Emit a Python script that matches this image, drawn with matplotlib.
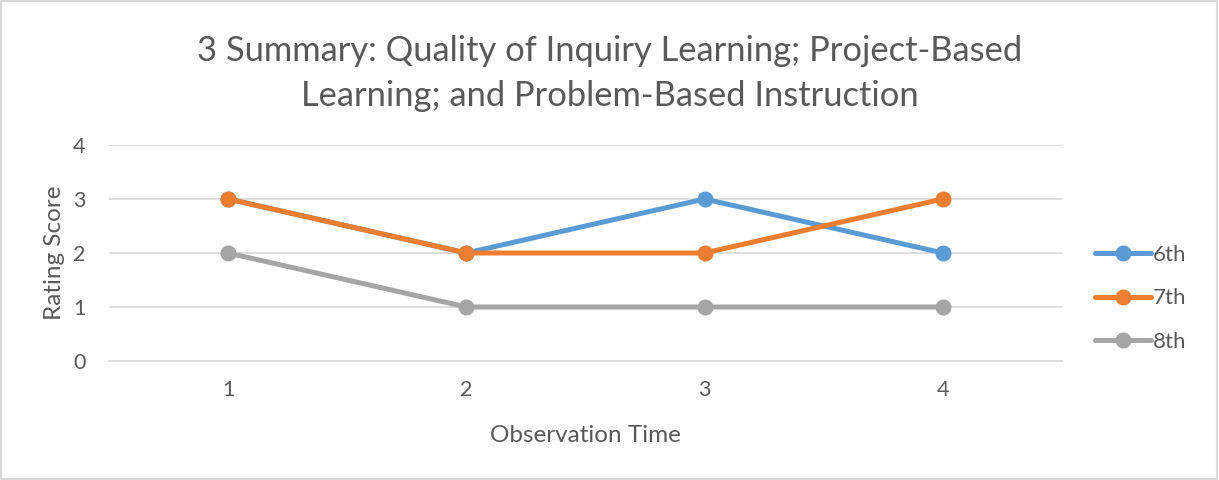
import matplotlib
matplotlib.use("Agg")
import matplotlib.pyplot as plt
from matplotlib.patches import Rectangle

obs_time = [1, 2, 3, 4]
sixth = [3, 2, 3, 2]
seventh = [3, 2, 2, 3]
eighth = [2, 1, 1, 1]
series_names = ["6th", "7th", "8th"]
colors = ["#5B9BD5", "#ED7D31", "#A5A5A5"]

plt.rcParams['font.family'] = ['Lato', 'DejaVu Sans']
txt = "#595959"

fig = plt.figure(figsize=(12.19, 4.8), dpi=100)
ax = fig.add_axes([109 / 1219, 1 - 361 / 480, (1062 - 109) / 1219, (361 - 145) / 480])

for vals, name, c in zip([sixth, seventh, eighth], series_names, colors):
    ax.plot(obs_time, vals, color=c, lw=3.6, marker="o", markersize=10.5,
            label=name, solid_capstyle="round")

ax.set_xlim(0.5, 4.5)
ax.set_ylim(0, 4)
ax.set_yticks([0, 1, 2, 3, 4])
ax.set_xticks(obs_time)
ax.grid(axis="y", color="#D9D9D9", lw=1.2)
ax.set_axisbelow(True)
for s in ["top", "right", "left"]:
    ax.spines[s].set_visible(False)
ax.spines["bottom"].set_color("#D9D9D9")
ax.spines["bottom"].set_linewidth(1.2)
ax.tick_params(axis="both", length=0, colors=txt, labelsize=15.5)
ax.tick_params(axis="y", pad=17)
ax.tick_params(axis="x", pad=14)
ax.set_xlabel("Observation Time", color=txt, fontsize=17.5, labelpad=18)
ax.set_ylabel("Rating Score", color=txt, fontsize=17.5, labelpad=6)

fig.suptitle("3 Summary: Quality of Inquiry Learning; Project-Based\nLearning; and Problem-Based Instruction",
             color=txt, fontsize=24.8, y=0.928, linespacing=1.5)

leg = ax.legend(loc="center left", bbox_to_anchor=(1.035, 0.29), frameon=False,
                borderaxespad=0, borderpad=0,
                fontsize=16, labelcolor=txt, handlelength=2.5, labelspacing=1.05,
                handletextpad=0.1)

fig.patches.append(Rectangle((0.001, 0.002), 0.997, 0.995, transform=fig.transFigure,
                             fill=False, edgecolor="#D9D9D9", lw=1.5))

fig.savefig("out.png", dpi=100, facecolor="white")
